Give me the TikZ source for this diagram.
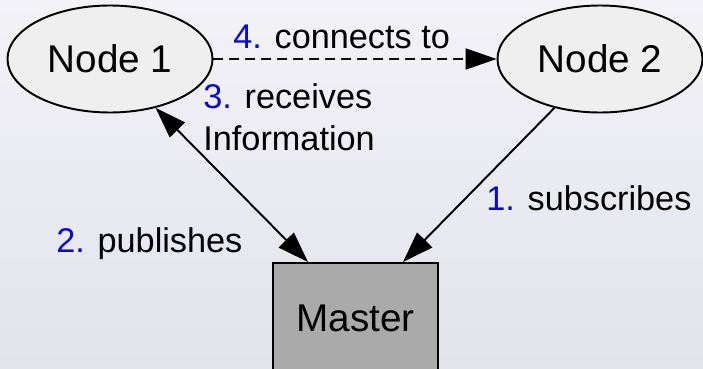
\documentclass[tikz,border=0pt]{standalone}
\usepackage{fontspec}
\setmainfont{Liberation Sans}
\usetikzlibrary{arrows.meta,shapes.geometric}
\definecolor{stepblue}{RGB}{10,10,200}
\definecolor{bgtop}{RGB}{242,242,247}
\definecolor{bgbottom}{RGB}{227,227,236}
\definecolor{nodefill}{RGB}{239,239,239}
\definecolor{masterfill}{RGB}{170,170,170}
\begin{document}
\begin{tikzpicture}[
    >={Triangle[length=0.62cm,width=0.42cm]},
    rosnode/.style={ellipse, draw, line width=1.1pt, fill=nodefill, inner sep=0pt,
      minimum width=4.1cm, minimum height=2.14cm, font=\fontsize{22}{26}\selectfont},
    master/.style={rectangle, draw, line width=1.1pt, fill=masterfill,
      minimum width=3.3cm, minimum height=2.2cm, font=\fontsize{22}{26}\selectfont},
    edge/.style={line width=1.1pt},
    lbl/.style={anchor=base west, inner sep=0pt, font=\fontsize{19.5}{23.5}\selectfont}
  ]
    \def\w{14.06}
    \def\h{7.36}
    \shade[top color=bgtop, bottom color=bgbottom] (0,0) rectangle (\w,-\h);
    \useasboundingbox (0,0) rectangle (\w,-\h);

    \node[rosnode] (n1) at (2.2,-1.18) {Node 1};
    \node[rosnode] (n2) at (12.0,-1.18) {Node 2};
    \node[master] (m) at (7.11,-6.36) {Master};

    \draw[edge, ->] (n2.-133) -- ([xshift=0.95cm]m.north);
    \draw[edge, <->] (n1.-47) -- ([xshift=-0.95cm]m.north);
    \draw[edge, ->, dash pattern=on 0.2cm off 0.12cm] (n1.east) -- (n2.west);

    \node[lbl] (l1) at (9.72,-4.2) {\textcolor{stepblue}{1.} subscribes};
    \node[lbl] (l2) at (1.12,-5.04) {\textcolor{stepblue}{2.} publishes};
    \node[lbl, align=left] (l3) at (4.06,-3.0) {\textcolor{stepblue}{3.} receives\\Information};
    \node[lbl] (l4) at (4.66,-0.96) {\textcolor{stepblue}{4.} connects to};
  \end{tikzpicture}
\end{document}
